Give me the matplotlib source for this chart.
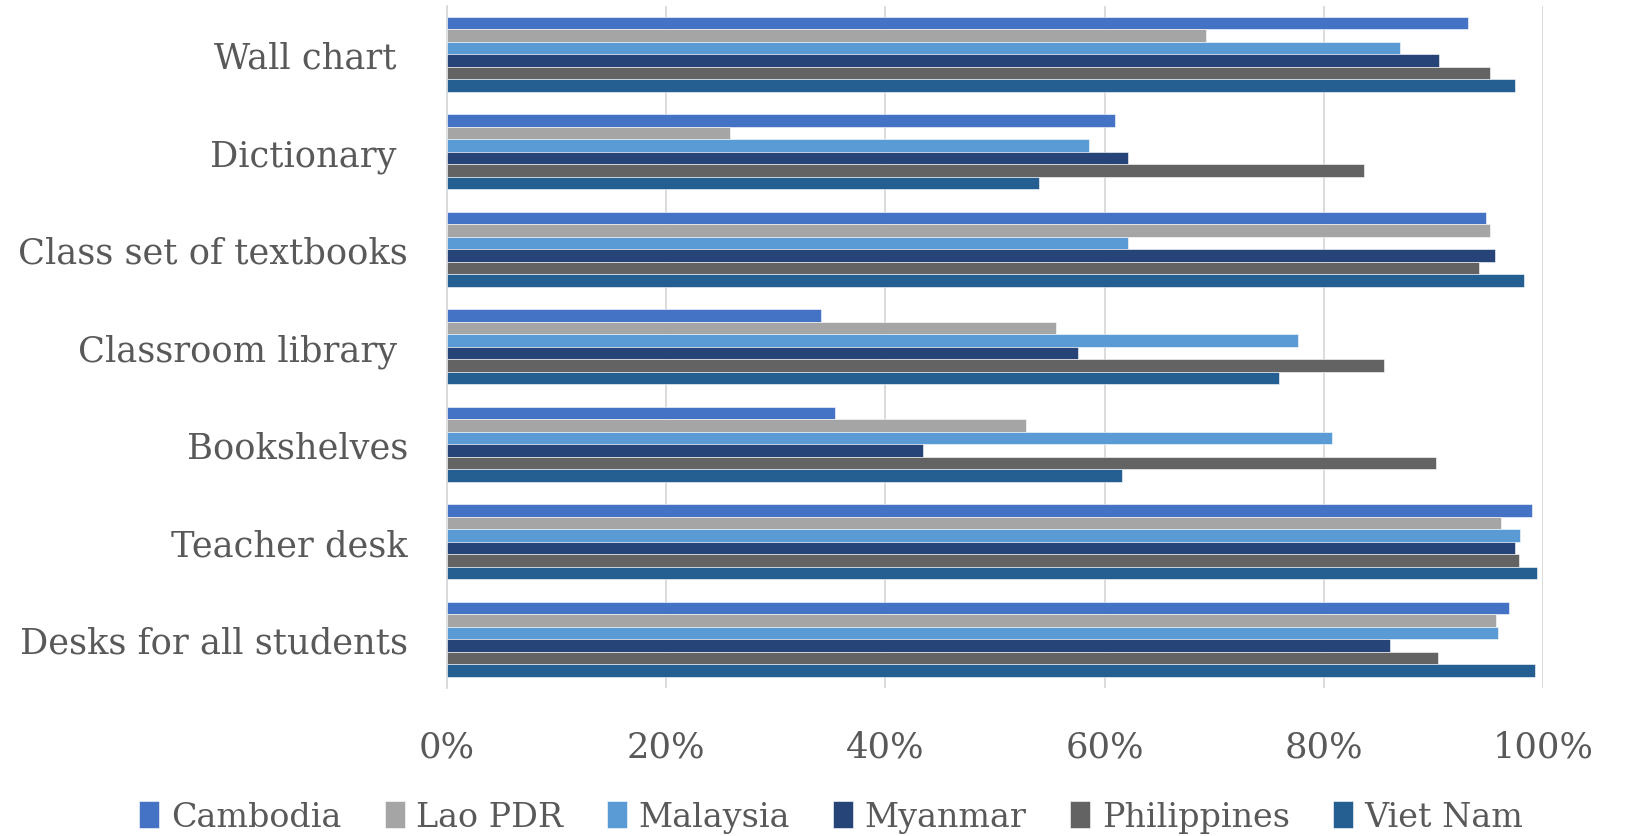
import matplotlib.pyplot as plt
import numpy as np

# categories listed top to bottom
items = ['Wall chart ', 'Dictionary ', 'Class set of textbooks', 'Classroom library ',
         'Bookshelves', 'Teacher desk', 'Desks for all students']
countries = ['Cambodia', 'Lao PDR', 'Malaysia', 'Myanmar', 'Philippines', 'Viet Nam']

cambodia = [93.1, 60.9, 94.8, 34.1, 35.4, 99.0, 96.9]
lao_pdr = [69.2, 25.8, 95.1, 55.6, 52.8, 96.1, 95.7]
malaysia = [86.9, 58.6, 62.1, 77.6, 80.7, 97.9, 95.9]
myanmar = [90.5, 62.1, 95.6, 57.6, 43.4, 97.4, 86.0]
philippines = [95.1, 83.6, 94.1, 85.5, 90.2, 97.8, 90.4]
viet_nam = [97.4, 54.0, 98.2, 75.9, 61.6, 99.4, 99.2]

colors = ['#4472C4', '#A5A5A5', '#5B9BD5', '#264478', '#636363', '#255E91']
series = [cambodia, lao_pdr, malaysia, myanmar, philippines, viet_nam]

plt.rcParams['font.family'] = ['DejaVu Serif']
txt = '#595959'
fs = 25.4

fig = plt.figure(figsize=(16.27, 8.37), dpi=100)
ax = fig.add_axes([0.2746, 0.1768, 0.6740, 0.8154])

n = len(series)
group_h = 0.766
bar_h = group_h / n
y = np.arange(len(items))
for i, (vals, c, name) in enumerate(zip(series, colors, countries)):
    offs = -group_h / 2 + bar_h * (i + 0.5)
    ax.barh(y + offs, np.array(vals) / 100, height=bar_h, color=c,
            edgecolor='white', linewidth=0.4, label=name, zorder=3)

ax.set_ylim(len(items) - 0.5, -0.5)
ax.set_xlim(0, 1)
ax.set_xticks(np.linspace(0, 1, 6))
ax.set_xticklabels([f'{int(v)}%' for v in np.linspace(0, 100, 6)])
ax.set_yticks(y)
ax.set_yticklabels(items)
ax.tick_params(axis='both', length=0, labelsize=fs, labelcolor=txt)
ax.tick_params(axis='y', pad=28)
ax.tick_params(axis='x', pad=30)

ax.grid(axis='x', color='#D9D9D9', linewidth=1.3, zorder=0)
for s in ['top', 'right', 'bottom']:
    ax.spines[s].set_visible(False)
ax.spines['left'].set_color('#D9D9D9')
ax.spines['left'].set_linewidth(1.3)

leg = fig.legend(loc='lower center', bbox_to_anchor=(0.511, -0.032), ncol=6, frameon=False,
                 fontsize=24, handlelength=0.6, handleheight=0.85, handletextpad=0.35,
                 columnspacing=1.3)
for t in leg.get_texts():
    t.set_color(txt)

fig.savefig('out.png', dpi=100)
